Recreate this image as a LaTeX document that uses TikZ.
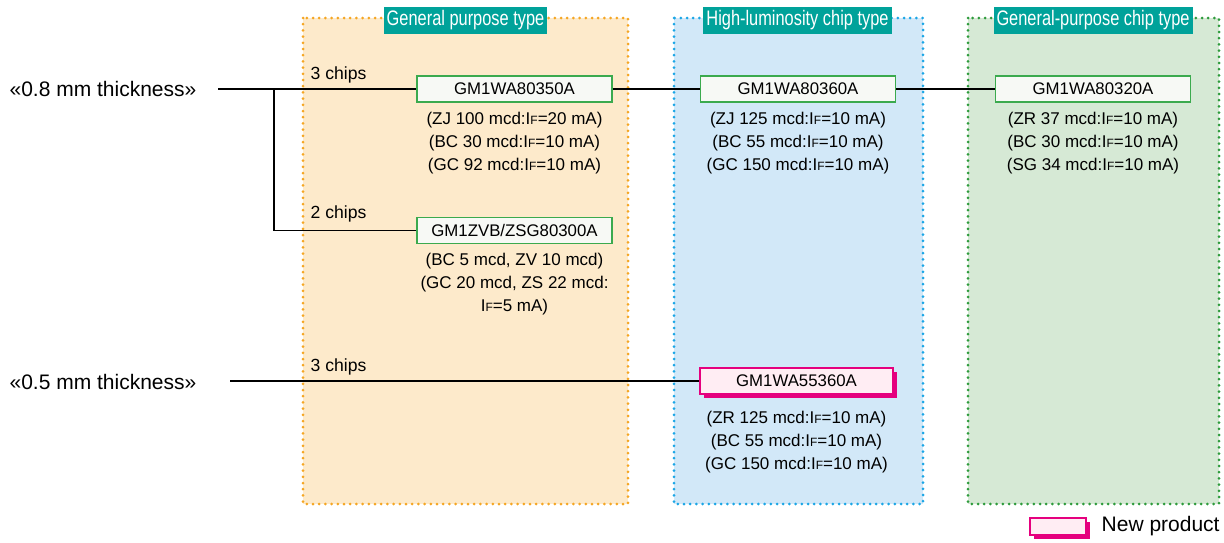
\documentclass[tikz,border=0pt]{standalone}
\usepackage{fontspec}
\setmainfont{Liberation Sans}
\newfontfamily\condfont[FakeStretch=0.78]{Liberation Sans}
\usetikzlibrary{positioning,shadows}
\definecolor{orangefill}{HTML}{FDEACB}
\definecolor{orangeline}{HTML}{F5A623}
\definecolor{bluefill}{HTML}{D2E8F8}
\definecolor{blueline}{HTML}{1BA6E6}
\definecolor{greenfill}{HTML}{D6E9D5}
\definecolor{greenline}{HTML}{2E9B3C}
\definecolor{tagteal}{HTML}{00A29A}
\definecolor{chipline}{HTML}{3BAA4E}
\definecolor{chipfill}{HTML}{F7F9F5}
\definecolor{newpink}{HTML}{E5007E}
\definecolor{newfill}{HTML}{FFEDF3}
\newcommand{\IF}{I{\fontsize{6}{6}\selectfont F}}
\tikzset{
  area/.style={line width=1.5pt, dash pattern=on 0pt off 3.1pt, line cap=round},
  tag/.style={fill=tagteal, text=white, inner sep=1.5pt, minimum height=13.5pt,
    font=\condfont\fontsize{10.5}{12}\selectfont},
  chip/.style={draw=chipline, fill=chipfill, line width=0.6pt, minimum width=97.5pt,
    minimum height=13pt, inner sep=0pt, font=\fontsize{8.4}{10}\selectfont},
  newchip/.style={chip, draw=newpink, fill=newfill,
    general shadow={fill=newpink, shadow xshift=1.8pt, shadow yshift=-1.8pt}},
  spec/.style={align=center, inner sep=0pt, font=\fontsize{8.5}{11.5}\selectfont},
  chips/.style={font=\fontsize{8.8}{10}\selectfont},
  thick label/.style={font=\fontsize{10.5}{12}\selectfont}
}
\begin{document}
\begin{tikzpicture}[x=0.5pt,y=-0.5pt]
\useasboundingbox (0,0) rectangle (1224,542);

% type areas
\fill[orangefill] (303,18) rectangle (628,504);
\draw[area, orangeline] (303,18) rectangle (628,504);
\fill[bluefill] (674,18) rectangle (923,504);
\draw[area, blueline] (674,18) rectangle (923,504);
\fill[greenfill] (968,18) rectangle (1219,504);
\draw[area, greenline] (968,18) rectangle (1219,504);

\node[tag] (tgen) at (465.5,20) {General purpose type};
\node[tag] (thigh) at (797.5,20) {High-luminosity chip type};
\node[tag] (tgenchip) at (1093,20) {General-purpose chip type};

% chips
\node[chip] (a350) at (514.5,89) {GM1WA80350A};
\node[chip] (a360) at (798,89) {GM1WA80360A};
\node[chip] (a320) at (1093,89) {GM1WA80320A};
\node[chip] (zvb) at (514.5,230.5) {GM1ZVB/ZSG80300A};
\node[newchip, minimum width=96.5pt] (w553) at (796.5,381) {GM1WA55360A};

\node[spec, below=4.5pt of a350] (s350) {(ZJ 100 mcd:\IF=20 mA)\\(BC 30 mcd:\IF=10 mA)\\(GC 92 mcd:\IF=10 mA)};
\node[spec, below=4.5pt of a360] (s360) {(ZJ 125 mcd:\IF=10 mA)\\(BC 55 mcd:\IF=10 mA)\\(GC 150 mcd:\IF=10 mA)};
\node[spec, below=4.5pt of a320] (s320) {(ZR 37 mcd:\IF=10 mA)\\(BC 30 mcd:\IF=10 mA)\\(SG 34 mcd:\IF=10 mA)};
\node[spec, below=4.5pt of zvb] (szvb) {(BC 5 mcd, ZV 10 mcd)\\(GC 20 mcd, ZS 22 mcd:\\\IF=5 mA)};
\node[spec, below=8pt of w553] (s553) {(ZR 125 mcd:\IF=10 mA)\\(BC 55 mcd:\IF=10 mA)\\(GC 150 mcd:\IF=10 mA)};

% thickness
\node[thick label] (th08) at (103,89) {«0.8 mm thickness»};
\node[thick label] (th05) at (103,382) {«0.5 mm thickness»};
\coordinate (c08) at (218,89);
\coordinate (br) at (274,89);
\coordinate (c05) at (230,381);

\node[chips] (n3a) at (338.5,75) {3 chips};
\node[chips] (n2) at (338.5,214) {2 chips};
\node[chips] (n3b) at (338.5,367) {3 chips};

\draw[line width=0.6pt] (c08) -- (a350.west);
\draw[line width=0.6pt] (a350.east) -- (a360.west);
\draw[line width=0.6pt] (a360.east) -- (a320.west);
\draw[line width=0.6pt] (br) |- (zvb.west);
\draw[line width=0.6pt] (c05) -- (w553.west);

% legend
\node[newchip, minimum width=28pt, minimum height=8.5pt] (leg) at (1058,526.5) {};
\node[thick label, right=4pt of leg] (legtxt) {New product};
\end{tikzpicture}
\end{document}
